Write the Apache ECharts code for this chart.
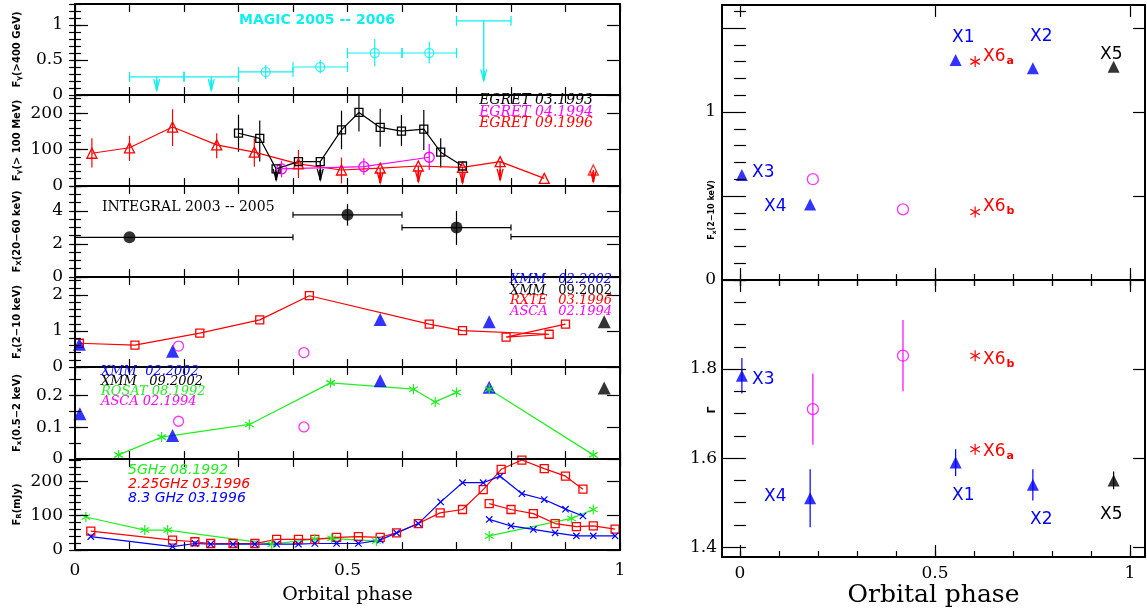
<!DOCTYPE html>
<html><head><meta charset="utf-8">
<script src="https://cdn.jsdelivr.net/npm/echarts@6/dist/echarts.min.js"></script>
<style>html,body{margin:0;padding:0;background:#fff}#c{width:1147px;height:612px}</style>
</head><body><div id="c"></div>
<script>
// ================= DATA =================
// MAGIC 2005-2006: [phase, flux, phaseLo, phaseHi, fluxLo, fluxHi]
const magicPts = [[0.35,0.33,0.3,0.4,0.23,0.43],[0.45,0.40,0.4,0.5,0.31,0.50],[0.55,0.60,0.5,0.6,0.41,0.80],[0.65,0.60,0.6,0.7,0.45,0.76]];
// MAGIC upper limits: [phase, limit, arrowTip, phaseLo, phaseHi]
const magicUL = [[0.15,0.26,0.07,0.1,0.2],[0.25,0.26,0.07,0.2,0.3],[0.75,1.06,0.21,0.7,0.8]];

// EGRET 03.1993
const egret93X   = [0.300,0.339,0.369,0.410,0.450,0.489,0.521,0.560,0.599,0.640,0.671,0.711];
const egret93Y   = [145,131,47,67,67,154,202,161,151,156,93,55];
const egret93Lo  = [94,67,null,null,null,101,150,108,110,99,51,null];
const egret93Hi  = [196,180,null,null,null,207,248,212,195,209,131,null];
const egret93Tip = [null,null,17,null,17,null,null,null,null,null,null,null];
// EGRET 04.1994
const egret94X  = [0.379,0.530,0.650];
const egret94Y  = [47,53,79];
const egret94Lo = [24,30,44];
const egret94Hi = [70,76,116];
// EGRET 09.1996
const egret96X   = [0.031,0.100,0.179,0.260,0.329,0.410,0.489,0.560,0.630,0.711,0.780,0.861];
const egret96Y   = [90,105,162,113,93,61,44,49,55,51,67,21];
const egret96Lo  = [51,69,110,76,53,22,7,null,null,null,null,null];
const egret96Hi  = [131,138,211,145,131,99,78,null,null,null,null,null];
const egret96Tip = [null,null,null,null,null,null,null,9,12,9,17,null];
const egret96ExtraUL = [[0.951,44,12]];

// INTEGRAL 2003-2005: [phase, flux, phaseLo, phaseHi, fluxLo, fluxHi]
const integralPts = [[0.1,2.40,-0.2,0.4,null,null],[0.5,3.76,0.4,0.6,3.1,4.4],[0.7,2.99,0.6,0.8,1.94,4.0]];
const integralWrap = [[1.1,2.44,0.8,1.4,null,null]];

// 2-10 keV
const rxteX = [0.008,0.110,0.229,0.339,0.430,0.650,0.711,0.870,0.791,0.900];
const rxteY = [0.66,0.61,0.94,1.31,1.98,1.19,1.01,0.91,0.83,1.19];
const xmmAHardX = [0.008,0.179,0.560,0.760];
const xmmAHardY = [0.63,0.44,1.32,1.26];
const xmmBHardX = [0.971];
const xmmBHardY = [1.26];
const ascaHardX = [0.19,0.42];
const ascaHardY = [0.58,0.40];

// 0.5-2 keV
const rosat1X = [0.080,0.159,0.320,0.469,0.621,0.661,0.700];
const rosat1Y = [0.013,0.069,0.109,0.240,0.220,0.180,0.210];
const rosat2X = [0.760,0.951];
const rosat2Y = [0.220,0.013];
const xmmASoftX = [0.009,0.179,0.560,0.760];
const xmmASoftY = [0.143,0.074,0.247,0.226];
const xmmBSoftX = [0.971];
const xmmBSoftY = [0.224];
const ascaSoftX = [0.19,0.42];
const ascaSoftY = [0.119,0.101];

// Radio (mJy)
const g5aX = [0.020,0.128,0.170,0.361,0.440,0.471,0.553];
const g5aY = [96,58,58,17,32,34,26];
const g5bX = [0.760,0.911,0.951];
const g5bY = [41,92,118];
const r225aX = [0.029,0.179,0.220,0.249,0.290,0.330,0.370,0.410,0.440,0.480,0.520,0.560,0.590,0.630,0.670,0.711,0.749,0.782,0.820,0.861,0.900,0.932];
const r225aY = [55,29,24,19,19,19,31,31,31,37,39,37,50,77,108,118,176,235,262,237,215,177];
const r225bX = [0.760,0.800,0.841,0.881,0.920,0.951,0.991];
const r225bY = [135,118,106,77,68,70,61];
const b83aX = [0.029,0.179,0.220,0.249,0.290,0.330,0.370,0.410,0.440,0.480,0.520,0.560,0.590,0.630,0.671,0.711,0.749,0.780,0.820,0.861,0.900,0.932];
const b83aY = [39,10,19,17,17,17,17,17,19,19,19,29,50,77,140,196,196,215,164,147,119,99];
const b83bX = [0.760,0.800,0.841,0.881,0.920,0.951,0.991];
const b83bY = [89,70,60,50,41,41,41];

// Right: X-ray flux 2-10 keV and photon index
const rNames   = ['X1','X2','X3','X4'];
const rXmmX    = [0.553,0.751,0.005,0.180];
const rXmmF    = [1.31,1.26,0.625,0.45];
const rXmmG    = [1.59,1.54,1.785,1.51];
const rXmmGerr = [0.03,0.035,0.04,0.065];
const rX5X = [0.958], rX5F = [1.27], rX5G = [1.55], rX5Gerr = [0.02];
const rX6X = [0.603,0.603];          // X6a, X6b
const rX6F = [1.30,0.405];
const rX6G = [1.62,1.83];
const rAscaX = [0.187,0.418];
const rAscaF = [0.60,0.42];
const rAscaG = [1.71,1.83];
const rAscaGerr = [0.08,0.08];

// ================= STYLE / HELPERS =================
const BLACK='#000', RED='#ff0000', BLUE='#0000ff', MAG='#ff00ff', GRN='#22ee22', CYAN='#11eeee';
const SERIF='"DejaVu Serif", serif', SANS='"DejaVu Sans", sans-serif';
function range(a,b,s){const r=[];for(let v=a;v<=b+1e-9;v+=s)r.push(+v.toFixed(6));return r;}

const grids=[], xAxes=[], yAxes=[], series=[], XI=[], YI=[];
function axis(list, gi, pos, min, max, major, minor, labels, majLen, minLen, extra){
  const base={gridIndex:gi,type:'value',position:pos,min:min,max:max,splitLine:{show:false},z:5};
  const idx=list.length;
  list.push(Object.assign({},base,{
    axisLine:{show:true,onZero:false,lineStyle:{color:BLACK,width:2}},
    axisTick:{show:true,inside:true,length:majLen,customValues:major,lineStyle:{color:BLACK,width:1.2}},
    axisLabel: labels ? {show:true,customValues:labels,color:BLACK,fontFamily:SERIF,fontSize:17,margin:(extra&&extra.labelMargin)||12} : {show:false}
  }, (extra&&extra.name)||{}));
  if(minor){
    list.push(Object.assign({},base,{
      axisLine:{show:false},
      axisTick:{show:true,inside:true,length:minLen,customValues:minor,lineStyle:{color:BLACK,width:1.2}},
      axisLabel:{show:false}}));
  }
  return idx;
}
function yName(txt, sub, rest, gap, size){
  return {name:'{n|'+txt+'}{s|'+sub+'}{n|'+rest+'}',nameLocation:'middle',nameRotate:90,nameGap:gap,
    nameTextStyle:{rich:{n:{fontFamily:SANS,fontWeight:'bold',fontSize:size,color:BLACK},
                         s:{fontFamily:SANS,fontWeight:'bold',fontSize:size-3,color:BLACK,padding:[5,0,0,0]}}}};
}

// ---- left panels ----
const LX=75, LW=545;
const panels=[
 {top:4,  h:91, min:0, max:1.3,  major:[0,0.5,1],    minor:range(0,1.3,0.1),  name:yName('F','γ','(>400 GeV)',52,10)},
 {top:95, h:91, min:0, max:250,  major:[0,100,200],  minor:range(0,250,20),   name:yName('F','γ','(> 100 MeV)',52,10)},
 {top:186,h:91, min:0, max:5.5,  major:[0,2,4],      minor:range(0,5.5,0.5),  name:yName('F','X','(20−60 keV)',52,10)},
 {top:277,h:90, min:0, max:2.5,  major:[0,1,2],      minor:range(0,2.5,0.2),  name:yName('F','x','(2−10 keV)',52,10)},
 {top:367,h:92, min:0, max:0.29, major:[0,0.1,0.2],  minor:range(0,0.29,0.05),name:yName('F','x','(0.5−2 keV)',52,10)},
 {top:459,h:91, min:0, max:265,  major:[0,100,200],  minor:range(0,265,20),   name:yName('F','R','(mJy)',52,10)}
];
panels.forEach((p,gi)=>{
  grids.push({left:LX,top:p.top,width:LW,height:p.h,outerBoundsMode:'none',containLabel:false});
  const last = gi===panels.length-1;
  XI[gi]=axis(xAxes,gi,'bottom',0,1,range(0,1,0.1),null,last?[0,0.5,1]:null,8,0,
     last?{labelMargin:12,name:{name:'Orbital phase',nameLocation:'middle',nameGap:36,nameTextStyle:{fontFamily:SERIF,fontSize:19,color:BLACK}}}:null);
  axis(xAxes,gi,'top',0,1,range(0,1,0.1),null,null,8,0);
  YI[gi]=axis(yAxes,gi,'left',p.min,p.max,p.major,p.minor,p.major,13,6,{name:p.name,labelMargin:12});
  axis(yAxes,gi,'right',p.min,p.max,p.major,p.minor,null,13,6);
});
// ---- right panels ----
const RX=722, RW=423, RXMIN=-0.046, RXMAX=1.0385;
grids.push({left:RX,top:5,width:RW,height:275,outerBoundsMode:'none',containLabel:false});
grids.push({left:RX,top:280,width:RW,height:277,outerBoundsMode:'none',containLabel:false});
XI[6]=axis(xAxes,6,'bottom',RXMIN,RXMAX,[0,0.5,1],range(0,1,0.1),null,12,6);
axis(xAxes,6,'top',RXMIN,RXMAX,[0,0.5,1],range(0,1,0.1),null,12,6);
YI[6]=axis(yAxes,6,'left',0,1.637,[0,0.5,1,1.5],range(0,1.6,0.1),[0,1],12,6,{labelMargin:6});
axis(yAxes,6,'right',0,1.637,[0,0.5,1,1.5],range(0,1.6,0.1),null,12,6);
XI[7]=axis(xAxes,7,'bottom',RXMIN,RXMAX,[0,0.5,1],range(0,1,0.1),[0,0.5,1],12,6,
   {labelMargin:8,name:{name:'Orbital phase',nameLocation:'middle',nameGap:24,nameTextStyle:{fontFamily:SERIF,fontSize:25,color:BLACK}}});
axis(xAxes,7,'top',RXMIN,RXMAX,[0,0.5,1],range(0,1,0.1),null,12,6);
YI[7]=axis(yAxes,7,'left',1.378,2.0,[1.4,1.6,1.8],range(1.4,2.0,0.05),[1.4,1.6,1.8],12,6,{labelMargin:5});
axis(yAxes,7,'right',1.378,2.0,[1.4,1.6,1.8],range(1.4,2.0,0.05),null,12,6);

// ---- series builders ----
function lineS(gi,xs,ys,color,sym,size,opt){
  opt=opt||{};
  const filled=opt.filled;
  return {type:opt.scatter?'scatter':'line',xAxisIndex:XI[gi],yAxisIndex:YI[gi],data:xs.map((x,i)=>[x,ys[i]]),
    symbol:sym||'none',symbolSize:size,showSymbol:!!sym,clip:true,animation:false,silent:true,z:3,
    lineStyle:{color:color,width:1.2},
    itemStyle: filled?{color:color}:{color:'transparent',borderColor:color,borderWidth:1.3}};
}
function errS(gi,rows,color,cap){
  return {type:'custom',xAxisIndex:XI[gi],yAxisIndex:YI[gi],clip:true,silent:true,animation:false,z:2,
    data:rows.map(r=>[r[0],r[1]]),
    renderItem:function(params,api){
      const r=rows[params.dataIndex], y=r[1], x=r[0], ch=[], st={stroke:color,lineWidth:1.2,fill:null};
      if(r[2]!=null){
        const a=api.coord([r[2],y]), b=api.coord([r[3],y]);
        ch.push({type:'line',shape:{x1:a[0],y1:a[1],x2:b[0],y2:b[1]},style:st});
        if(cap){
          ch.push({type:'line',shape:{x1:a[0],y1:a[1]-cap,x2:a[0],y2:a[1]+cap},style:st});
          ch.push({type:'line',shape:{x1:b[0],y1:b[1]-cap,x2:b[0],y2:b[1]+cap},style:st});
        }
      }
      if(r[4]!=null){
        const a=api.coord([x,r[4]]), b=api.coord([x,r[5]]);
        ch.push({type:'line',shape:{x1:a[0],y1:a[1],x2:b[0],y2:b[1]},style:st});
      }
      return {type:'group',children:ch};
    }};
}
function ulS(gi,rows,color,cap){ // rows [x, y, tip, xlo, xhi]
  return {type:'custom',xAxisIndex:XI[gi],yAxisIndex:YI[gi],clip:true,silent:true,animation:false,z:2,
    data:rows.map(r=>[r[0],r[1]]),
    renderItem:function(params,api){
      const r=rows[params.dataIndex], st={stroke:color,lineWidth:1.3,fill:null}, ch=[];
      const p=api.coord([r[0],r[1]]), t=api.coord([r[0],r[2]]);
      ch.push({type:'line',shape:{x1:p[0],y1:p[1],x2:t[0],y2:t[1]},style:st});
      ch.push({type:'polyline',shape:{points:[[t[0]-3,t[1]-11],[t[0],t[1]],[t[0]+3,t[1]-11]]},style:st});
      ch.push({type:'line',shape:{x1:t[0],y1:t[1]-10,x2:t[0],y2:t[1]},style:{stroke:color,lineWidth:2.2}});
      if(r[3]!=null){
        const a=api.coord([r[3],r[1]]), b=api.coord([r[4],r[1]]);
        ch.push({type:'line',shape:{x1:a[0],y1:a[1],x2:b[0],y2:b[1]},style:st});
        ch.push({type:'line',shape:{x1:a[0],y1:a[1]-cap,x2:a[0],y2:a[1]+cap},style:st});
        ch.push({type:'line',shape:{x1:b[0],y1:b[1]-cap,x2:b[0],y2:b[1]+cap},style:st});
      }
      return {type:'group',children:ch};
    }};
}
function markS(gi,xs,ys,shape,color,r){
  return {type:'custom',xAxisIndex:XI[gi],yAxisIndex:YI[gi],clip:true,silent:true,animation:false,z:4,
    data:xs.map((x,i)=>[x,ys[i]]),
    renderItem:function(params,api){
      const p=api.coord([api.value(0),api.value(1)]), st={stroke:color,lineWidth:1.2,fill:null}, ch=[];
      const angs = shape==='cross' ? [45,135] : [90,30,150];
      angs.forEach(a=>{const c=Math.cos(a*Math.PI/180)*r, s=Math.sin(a*Math.PI/180)*r;
        ch.push({type:'line',shape:{x1:p[0]-c,y1:p[1]-s,x2:p[0]+c,y2:p[1]+s},style:st});});
      return {type:'group',children:ch};
    }};
}
function zipErr(xs,ys,lo,hi){const r=[];xs.forEach((x,i)=>{if(lo[i]!=null)r.push([x,ys[i],null,null,lo[i],hi[i]]);});return r;}
function zipUL(xs,ys,tip){const r=[];xs.forEach((x,i)=>{if(tip[i]!=null)r.push([x,ys[i],tip[i]]);});return r;}

// ---- panel 1: MAGIC ----
series.push(errS(0,magicPts,CYAN,5));
series.push(ulS(0,magicUL,CYAN,5));
series.push(lineS(0,magicPts.map(r=>r[0]),magicPts.map(r=>r[1]),CYAN,'circle',9,{scatter:true}));
// ---- panel 2: EGRET ----
series.push(errS(1,zipErr(egret96X,egret96Y,egret96Lo,egret96Hi),RED));
series.push(ulS(1,zipUL(egret96X,egret96Y,egret96Tip),RED));
series.push(ulS(1,egret96ExtraUL,RED));
series.push(lineS(1,egret96X,egret96Y,RED,'triangle',10));
series.push(lineS(1,egret96ExtraUL.map(r=>r[0]),egret96ExtraUL.map(r=>r[1]),RED,'triangle',10,{scatter:true}));
series.push(errS(1,zipErr(egret94X,egret94Y,egret94Lo,egret94Hi),MAG));
series.push(lineS(1,egret94X,egret94Y,MAG,'circle',10));
series.push(errS(1,zipErr(egret93X,egret93Y,egret93Lo,egret93Hi),BLACK));
series.push(ulS(1,zipUL(egret93X,egret93Y,egret93Tip),BLACK));
series.push(lineS(1,egret93X,egret93Y,BLACK,'rect',8));
// ---- panel 3: INTEGRAL ----
series.push(errS(2,integralPts,BLACK,3));
series.push(errS(2,integralWrap,BLACK,3));
series.push(lineS(2,integralPts.map(r=>r[0]),integralPts.map(r=>r[1]),BLACK,'circle',12,{scatter:true,filled:true}));
// ---- panel 4: 2-10 keV ----
series.push(lineS(3,rxteX,rxteY,RED,'rect',8));
series.push(lineS(3,ascaHardX,ascaHardY,MAG,'circle',10,{scatter:true}));
series.push(lineS(3,xmmAHardX,xmmAHardY,BLUE,'triangle',13,{scatter:true,filled:true}));
series.push(lineS(3,xmmBHardX,xmmBHardY,BLACK,'triangle',13,{scatter:true,filled:true}));
// ---- panel 5: 0.5-2 keV ----
series.push(lineS(4,rosat1X,rosat1Y,GRN));
series.push(lineS(4,rosat2X,rosat2Y,GRN));
series.push(lineS(4,ascaSoftX,ascaSoftY,MAG,'circle',10,{scatter:true}));
series.push(lineS(4,xmmASoftX,xmmASoftY,BLUE,'triangle',13,{scatter:true,filled:true}));
series.push(lineS(4,xmmBSoftX,xmmBSoftY,BLACK,'triangle',13,{scatter:true,filled:true}));
series.push(markS(4,rosat1X.concat(rosat2X),rosat1Y.concat(rosat2Y),'star',GRN,5));
// ---- panel 6: radio ----
series.push(lineS(5,g5aX,g5aY,GRN));
series.push(lineS(5,g5bX,g5bY,GRN));
series.push(markS(5,g5aX.concat(g5bX),g5aY.concat(g5bY),'star',GRN,5));
series.push(lineS(5,r225aX,r225aY,RED,'rect',8));
series.push(lineS(5,r225bX,r225bY,RED,'rect',8));
series.push(lineS(5,b83aX,b83aY,BLUE));
series.push(lineS(5,b83bX,b83bY,BLUE));
series.push(markS(5,b83aX.concat(b83bX),b83aY.concat(b83bY),'cross',BLUE,4.5));
// ---- right top: flux ----
series.push(lineS(6,rXmmX,rXmmF,BLUE,'triangle',12,{scatter:true,filled:true}));
series.push(lineS(6,rX5X,rX5F,BLACK,'triangle',12,{scatter:true,filled:true}));
series.push(lineS(6,rAscaX,rAscaF,MAG,'circle',11,{scatter:true}));
series.push(markS(6,rX6X,rX6F,'star',RED,5.5));
// ---- right bottom: photon index ----
series.push(errS(7,rXmmX.map((x,i)=>[x,rXmmG[i],null,null,rXmmG[i]-rXmmGerr[i],rXmmG[i]+rXmmGerr[i]]),BLUE));
series.push(errS(7,rX5X.map((x,i)=>[x,rX5G[i],null,null,rX5G[i]-rX5Gerr[i],rX5G[i]+rX5Gerr[i]]),BLACK));
series.push(errS(7,rAscaX.map((x,i)=>[x,rAscaG[i],null,null,rAscaG[i]-rAscaGerr[i],rAscaG[i]+rAscaGerr[i]]),MAG));
series.push(lineS(7,rXmmX,rXmmG,BLUE,'triangle',12,{scatter:true,filled:true}));
series.push(lineS(7,rX5X,rX5G,BLACK,'triangle',12,{scatter:true,filled:true}));
series.push(lineS(7,rAscaX,rAscaG,MAG,'circle',11,{scatter:true}));
series.push(markS(7,rX6X,rX6G,'star',RED,5.5));

// ---- annotations (text) ----
function T(x,y,text,color,font,align){return {type:'text',x:x,y:y,z:10,silent:true,style:{text:text,fill:color,font:font,align:align||'left',verticalAlign:'middle'}};}
const IS='italic 14px "DejaVu Serif"', IS13='italic 13px "DejaVu Serif"', RS13='13px "DejaVu Serif"', OB='oblique 14px "DejaVu Sans"';
function XL(x,y,main,sub,color){return {type:'text',x:x,y:y,z:10,silent:true,style:{text:'{m|'+main+'}{s|'+sub+'}',align:'left',verticalAlign:'middle',
   rich:{m:{fill:color,fontFamily:SANS,fontSize:17},s:{fill:color,fontFamily:SANS,fontSize:11,fontWeight:'bold',padding:[8,0,0,1]}}}};}
const graphic=[
  T(239,20,'MAGIC 2005 -- 2006',CYAN,'bold 14px "DejaVu Sans"'),
  T(593,100,'EGRET 03.1993',BLACK,IS,'right'),
  T(593,112,'EGRET 04.1994',MAG,IS,'right'),
  T(593,123,'EGRET 09.1996',RED,IS,'right'),
  T(102,207,'INTEGRAL 2003 -- 2005',BLACK,'14px "DejaVu Serif"'),
  T(510,280,'XMM',BLUE,IS13), T(612,280,'02.2002',BLUE,IS13,'right'),
  T(510,291,'XMM',BLACK,IS13), T(612,291,'09.2002',BLACK,RS13,'right'),
  T(510,301,'RXTE',RED,IS13), T(612,301,'03.1996',RED,IS13,'right'),
  T(510,312,'ASCA',MAG,IS13), T(612,312,'02.1994',MAG,IS13,'right'),
  T(101,372,'XMM  02.2002',BLUE,IS13),
  T(101,382,'XMM   09.2002',BLACK,IS13),
  T(101,392,'ROSAT 08.1992',GRN,IS13),
  T(101,402,'ASCA 02.1994',MAG,IS13),
  T(128,470,'5GHz 08.1992',GRN,OB),
  T(128,484,'2.25GHz 03.1996',RED,OB),
  T(128,498,'8.3 GHz 03.1996',BLUE,OB),
  // right y-axis names
  {type:'text',x:712,y:210,rotation:Math.PI/2,z:10,silent:true,style:{text:'{n|F}{s|x}{n|(2−10 keV)}',align:'center',verticalAlign:'middle',
     rich:{n:{fontFamily:SANS,fontWeight:'bold',fontSize:8,fill:BLACK},s:{fontFamily:SANS,fontWeight:'bold',fontSize:6,fill:BLACK,padding:[4,0,0,0]}}}},
  {type:'text',x:712,y:410,rotation:Math.PI/2,z:10,silent:true,style:{text:'Γ',align:'center',verticalAlign:'middle',fill:BLACK,font:'bold 11px "DejaVu Sans"'}},
  // right top
  T(952,38,'X1',BLUE,'17px "DejaVu Sans"'),
  T(1030,37,'X2',BLUE,'17px "DejaVu Sans"'),
  T(752,173,'X3',BLUE,'17px "DejaVu Sans"'),
  T(764,207,'X4',BLUE,'17px "DejaVu Sans"'),
  T(1100,55,'X5',BLACK,'17px "DejaVu Sans"'),
  XL(983,57,'X6','a',RED),
  XL(983,207,'X6','b',RED),
  // right bottom
  T(752,380,'X3',BLUE,'17px "DejaVu Sans"'),
  T(764,497,'X4',BLUE,'17px "DejaVu Sans"'),
  T(952,496,'X1',BLUE,'17px "DejaVu Sans"'),
  T(1030,520,'X2',BLUE,'17px "DejaVu Sans"'),
  T(1100,515,'X5',BLACK,'17px "DejaVu Sans"'),
  XL(983,360,'X6','b',RED),
  XL(983,452,'X6','a',RED)
];

const chart=echarts.init(document.getElementById('c'),null,{renderer:'canvas'});
chart.setOption({backgroundColor:'#fff',animation:false,grid:grids,xAxis:xAxes,yAxis:yAxes,series:series,graphic:graphic});
</script></body></html>
